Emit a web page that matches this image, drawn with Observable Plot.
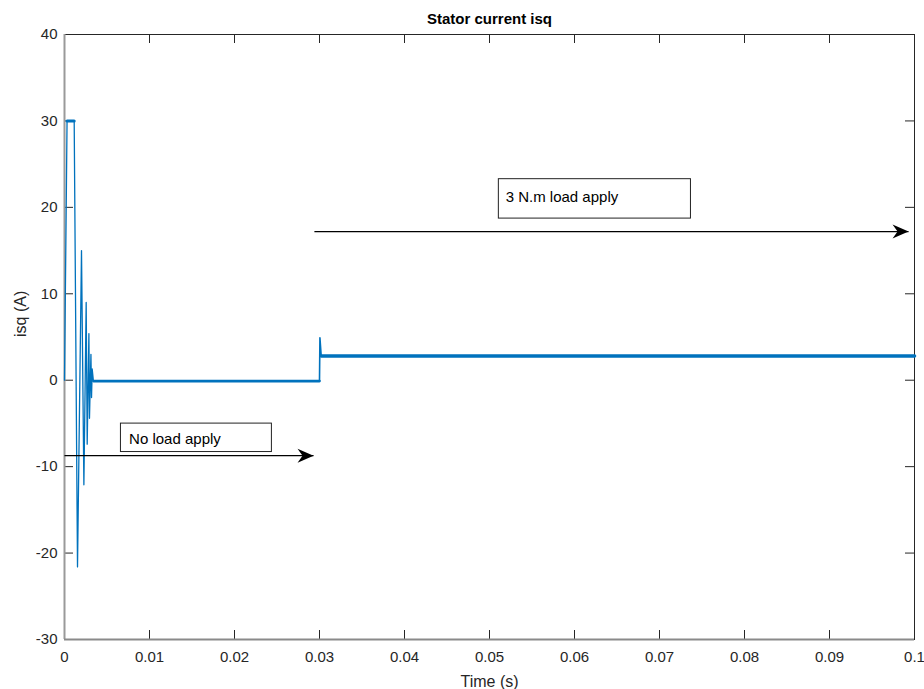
<!DOCTYPE html>
<html>
<head>
<meta charset="utf-8">
<script src="https://cdn.jsdelivr.net/npm/d3@7"></script>
<script src="https://cdn.jsdelivr.net/npm/@observablehq/plot@0.6"></script>
<style>
  html, body { margin: 0; padding: 0; background: #fff; }
  #chart svg { display: block; }
</style>
</head>
<body>
<div id="chart"></div>
<script>
// ---- Data ----
// Start-up transient of isq (A) vs time (s)
const transientTime = [0, 0.0003, 0.00114, 0.00153, 0.0020, 0.00228, 0.00255, 0.00267, 0.00287, 0.00294, 0.00311, 0.00318, 0.00326, 0.0034];
const transientIsq  = [0, 30,     30,      -21.6,   15.0,   -12.1,   9.0,     -7.4,    5.4,     -4.4,    3.0,     -2.0,    1.3,     -0.1];
// Steady segments (noisy band drawn thicker)
const plateauTime = [0.0003, 0.00114];
const plateauIsq  = [30, 30];
const noLoadTime  = [0.0034, 0.0300];
const noLoadIsq   = [-0.1, -0.1];
const stepTime    = [0.0300, 0.03005, 0.0302];
const stepIsq     = [-0.1, 4.9, 2.8];
const loadTime    = [0.0302, 0.1];
const loadIsq     = [2.8, 2.8];

// Annotations
const annoLabels = ["No load apply", "3 N.m load apply"];
const annoTextX  = [0.0076, 0.0519];
const annoTextY  = [-6.85, 21.15];
const boxX1 = [0.00664, 0.0511];
const boxX2 = [0.0244, 0.0737];
const boxY1 = [-8.31, 18.7];
const boxY2 = [-5.02, 23.26];
const arrowX1 = [0, 0.0294];
const arrowX2 = [0.0293, 0.0993];
const arrowY  = [-8.73, 17.2];

// Axis ticks
const xTicks = [0, 0.01, 0.02, 0.03, 0.04, 0.05, 0.06, 0.07, 0.08, 0.09, 0.1];
const xTickLabels = ["0", "0.01", "0.02", "0.03", "0.04", "0.05", "0.06", "0.07", "0.08", "0.09", "0.1"];
const yTicks = [-30, -20, -10, 0, 10, 20, 30, 40];
const yTickLabels = ["-30", "-20", "-10", "0", "10", "20", "30", "40"];

// ---- Build tables ----
const zip = (xs, ys) => xs.map((x, i) => ({x, y: ys[i]}));
const transient = zip(transientTime, transientIsq);
const step = zip(stepTime, stepIsq);
const annos = annoLabels.map((label, i) => ({
  label, tx: annoTextX[i], ty: annoTextY[i],
  bx1: boxX1[i], bx2: boxX2[i], by1: boxY1[i], by2: boxY2[i],
  ax1: arrowX1[i], ax2: arrowX2[i], ay: arrowY[i]
}));
const xFmt = d => xTickLabels[xTicks.indexOf(d)];
const yFmt = d => yTickLabels[yTicks.indexOf(d)];

// ---- Layout ----
const W = 924, H = 689;
const mt = 34, ml = 64, mr = 10, mb = 50;
const fw = W - ml - mr, fh = H - mt - mb;
const tick = 9;
const blue = "#0072BD";
const ink = "#262626";

// Barbed arrowhead (tip at origin, pointing right)
const arrowHead = {
  draw(ctx) {
    ctx.moveTo(0, 0);
    ctx.lineTo(-16, -7);
    ctx.lineTo(-11, 0);
    ctx.lineTo(-16, 7);
    ctx.closePath();
  }
};

const chart = Plot.plot({
  width: W, height: H,
  marginTop: mt, marginLeft: ml, marginRight: mr, marginBottom: mb,
  style: {fontFamily: "'Liberation Sans', Arial, sans-serif", fontSize: "15px", color: ink, background: "#fff"},
  x: {domain: [0, 0.1]},
  y: {domain: [-30, 40]},
  marks: [
    // frame
    Plot.frame({stroke: ink, strokeWidth: 1}),
    // tick marks (inward, all four sides)
    Plot.ruleX(xTicks, {stroke: ink, insetTop: fh - tick}),
    Plot.ruleX(xTicks, {stroke: ink, insetBottom: fh - tick}),
    Plot.ruleY(yTicks, {stroke: ink, insetRight: fw - tick}),
    Plot.ruleY(yTicks, {stroke: ink, insetLeft: fw - tick}),
    // gray left and bottom axis lines
    Plot.ruleX([0], {stroke: "#9a9a9a", strokeWidth: 2}),
    Plot.ruleY([-30], {stroke: "#8a8a8a", strokeWidth: 2}),
    // tick labels
    Plot.axisX(xTicks, {tickSize: 0, tickPadding: 12, tickFormat: xFmt, fontSize: 15, fill: ink, label: null}),
    Plot.axisY(yTicks, {tickSize: 0, tickPadding: 7, tickFormat: yFmt, fontSize: 15, fill: ink, label: null}),
    // signal
    Plot.line(transient, {x: "x", y: "y", stroke: blue, strokeWidth: 1.3}),
    Plot.line(zip(plateauTime, plateauIsq), {x: "x", y: "y", stroke: blue, strokeWidth: 3}),
    Plot.line(zip(noLoadTime, noLoadIsq), {x: "x", y: "y", stroke: blue, strokeWidth: 2.6}),
    Plot.line(step, {x: "x", y: "y", stroke: blue, strokeWidth: 1.6}),
    Plot.line(zip(loadTime, loadIsq), {x: "x", y: "y", stroke: blue, strokeWidth: 3.6}),
    // annotations
    Plot.link(annos, {x1: "ax1", x2: "ax2", y1: "ay", y2: "ay", stroke: "#000", strokeWidth: 1.2}),
    Plot.dot(annos, {x: "ax2", y: "ay", symbol: arrowHead, fill: "#000", stroke: "none", r: 8}),
    Plot.rect(annos, {x1: "bx1", x2: "bx2", y1: "by1", y2: "by2", fill: "#fff", stroke: "#222", strokeWidth: 1}),
    Plot.text(annos, {x: "tx", y: "ty", text: "label", textAnchor: "start", lineAnchor: "middle", fontSize: 15, fill: "#000"}),
    // titles
    Plot.text(["Stator current isq"], {frameAnchor: "top", dy: -15, fontWeight: "bold", fontSize: 15, fill: "#000", lineAnchor: "middle"}),
    Plot.text(["Time (s)"], {frameAnchor: "bottom", dy: 42, fontSize: 16, fill: ink, lineAnchor: "middle"}),
    Plot.text(["isq (A)"], {frameAnchor: "left", dx: -44, rotate: -90, fontSize: 16, fill: ink, lineAnchor: "middle"})
  ]
});
document.getElementById("chart").appendChild(chart);
</script>
</body>
</html>
